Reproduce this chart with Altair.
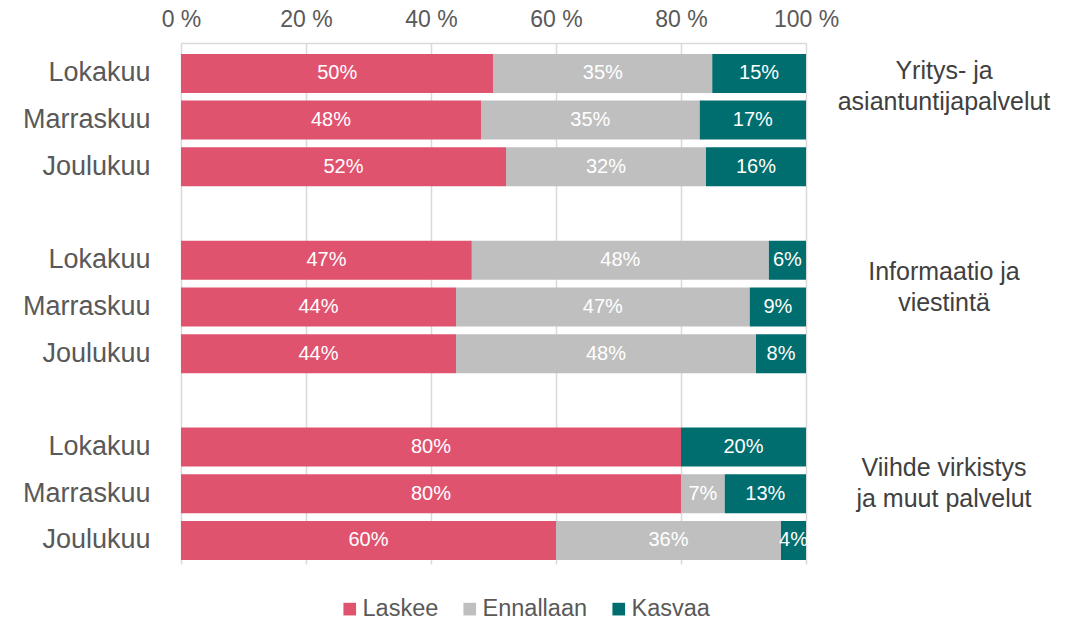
import altair as alt
import pandas as pd

categories = ["Laskee", "Ennallaan", "Kasvaa"]
colors = ["#E0536F", "#BFBFBF", "#006E6E"]
months = ["Lokakuu", "Marraskuu", "Joulukuu"]
groups = ["Yritys- ja\nasiantuntijapalvelut", "Informaatio ja\nviestintä", "Viihde virkistys\nja muut palvelut"]
laskee = [50, 48, 52, 47, 44, 44, 80, 80, 60]
ennallaan = [35, 35, 32, 48, 47, 48, 0, 7, 36]
kasvaa = [15, 17, 16, 6, 9, 8, 20, 13, 4]
x_ticks = [0, 0.2, 0.4, 0.6, 0.8, 1.0]

FONT = "Liberation Sans"

# build row keys, with spacer rows between groups
domain = []
rows = []
for g in range(3):
    for m in range(3):
        key = f"{months[m]}|{g}{m}"
        domain.append(key)
        i = g * 3 + m
        for c, vals in enumerate([laskee, ennallaan, kasvaa]):
            rows.append({"key": key, "cat": categories[c], "order": c, "value": vals[i]})
    if g < 2:
        domain.append(f"|s{g}")
df = pd.DataFrame(rows)

y_enc = alt.Y(
    "key:N",
    scale=alt.Scale(domain=domain, paddingInner=0.165, paddingOuter=0.16, align=0.73),
    axis=alt.Axis(
        title=None, ticks=False, domain=False, grid=False,
        labelExpr="split(datum.label, '|')[0]",
        labelFontSize=27, labelColor="#595959", labelFont=FONT, labelPadding=31,
    ),
)

base = alt.Chart(df).transform_joinaggregate(
    total="sum(value)", groupby=["key"]
).transform_calculate(
    pct="datum.value / datum.total"
).transform_stack(
    stack="pct", groupby=["key"], sort=[alt.SortField("order")], as_=["x0", "x1"]
).transform_calculate(
    mid="(datum.x0 + datum.x1) / 2",
    lab="format(datum.value, 'd') + '%'",
)

x_scale = alt.Scale(domain=[0, 1], nice=False, zero=True)

bars = base.mark_bar(strokeWidth=0).encode(
    x=alt.X(
        "x0:Q", scale=x_scale,
        axis=alt.Axis(
            orient="top", title=None, values=x_ticks, ticks=False, labelFlush=False,
            labelExpr="format(datum.value * 100, 'd') + ' %'",
            labelFontSize=23, labelColor="#595959", labelFont=FONT, labelPadding=12,
            domainColor="#D9D9D9", gridColor="#D9D9D9", gridWidth=1.5, domainWidth=1.5,
        ),
    ),
    x2="x1:Q",
    y=y_enc,
    color=alt.Color(
        "cat:N",
        scale=alt.Scale(domain=categories, range=colors),
        legend=alt.Legend(
            title=None, orient="none", direction="horizontal",
            legendX=157, legendY=554,
            symbolType="square", symbolSize=160, symbolStrokeWidth=0,
            labelFontSize=23.5, labelColor="#595959", labelFont=FONT,
            labelOffset=1, columnPadding=19,
        ),
    ),
    order=alt.Order("order:Q"),
)

texts = base.transform_filter("datum.value > 0").mark_text(
    color="white", fontSize=20, font=FONT, baseline="middle", align="center"
).encode(
    x=alt.X("mid:Q", scale=x_scale),
    y=alt.Y("key:N", scale=alt.Scale(domain=domain)),
    text="lab:N",
)

layers = [bars, texts]
group_dy = [-49, -35, -26]
for g in range(3):
    gdf = pd.DataFrame({"key": [domain[g * 4 + 1]], "label": [groups[g]]})
    layers.append(
        alt.Chart(gdf).mark_text(
            fontSize=25, font=FONT, color="#404040", align="center",
            baseline="middle", lineBreak="\n", lineHeight=31, dy=group_dy[g],
        ).encode(
            x=alt.value(763),
            y=alt.Y("key:N", scale=alt.Scale(domain=domain)),
            text="label:N",
        )
    )

chart = alt.layer(*layers).properties(
    width=625, height=521,
    autosize=alt.AutoSizeParams(type="none"),
    padding={"left": 173, "top": 35, "right": 252, "bottom": 57},
).configure_view(stroke=None)

chart.save("out.html", embed_options={"renderer": "svg", "actions": False})
